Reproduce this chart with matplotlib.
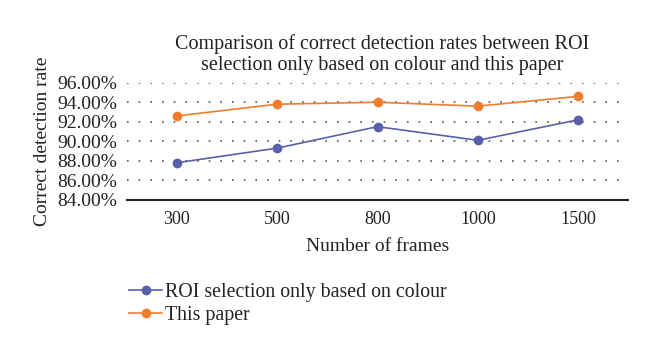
import matplotlib.pyplot as plt
from matplotlib.ticker import PercentFormatter

plt.rcParams['font.family'] = ['Liberation Serif', 'DejaVu Serif']

frames = ['300', '500', '800', '1000', '1500']
roi_colour = [87.8, 89.3, 91.5, 90.1, 92.2]
this_paper = [92.6, 93.8, 94.0, 93.6, 94.6]

fig = plt.figure(figsize=(6.6, 3.55), dpi=100)
ax = fig.add_axes([0.192, 0.437, 0.76, 0.33])

x = range(len(frames))
ax.plot(x, roi_colour, color='#5a5fab', marker='o', markersize=6, linewidth=1.2,
        label='ROI selection only based on colour', zorder=3)
ax.plot(x, this_paper, color='#f07c30', marker='o', markersize=6, linewidth=1.2,
        label='This paper', zorder=3)

ax.set_xlim(-0.5, len(frames) - 0.5)
ax.set_ylim(84, 96)
ax.set_yticks(range(84, 97, 2))
ax.yaxis.set_major_formatter(PercentFormatter(decimals=2))
ax.set_xticks(list(x))
ax.set_xticklabels(frames)
ax.tick_params(length=0, colors='#222222')
ax.tick_params(axis='x', pad=8, labelsize=13)
ax.tick_params(axis='y', pad=7, labelsize=14)

for v in range(86, 97, 2):
    ax.axhline(v, color='#555555', linestyle=(0, (1, 6)), linewidth=1.2, zorder=1)

for s in ['top', 'right', 'left']:
    ax.spines[s].set_visible(False)
ax.spines['bottom'].set_linewidth(1.5)
ax.spines['bottom'].set_color('#222222')

ax.set_title('Comparison of correct detection rates between ROI\nselection only based on colour and this paper',
             fontsize=14.5, color='#222222', pad=9, linespacing=1.15, x=0.51)
ax.set_ylabel('Correct detection rate', fontsize=14, color='#222222', labelpad=4)
ax.set_xlabel('Number of frames', fontsize=14, color='#222222', labelpad=7)

fig.legend(loc='upper left', bbox_to_anchor=(0.183, 0.225), frameon=False,
           fontsize=14.3, handlelength=1.7, handletextpad=0.15, labelspacing=0.2,
           borderaxespad=0, labelcolor='#222222')

fig.savefig('out.png', dpi=100)
